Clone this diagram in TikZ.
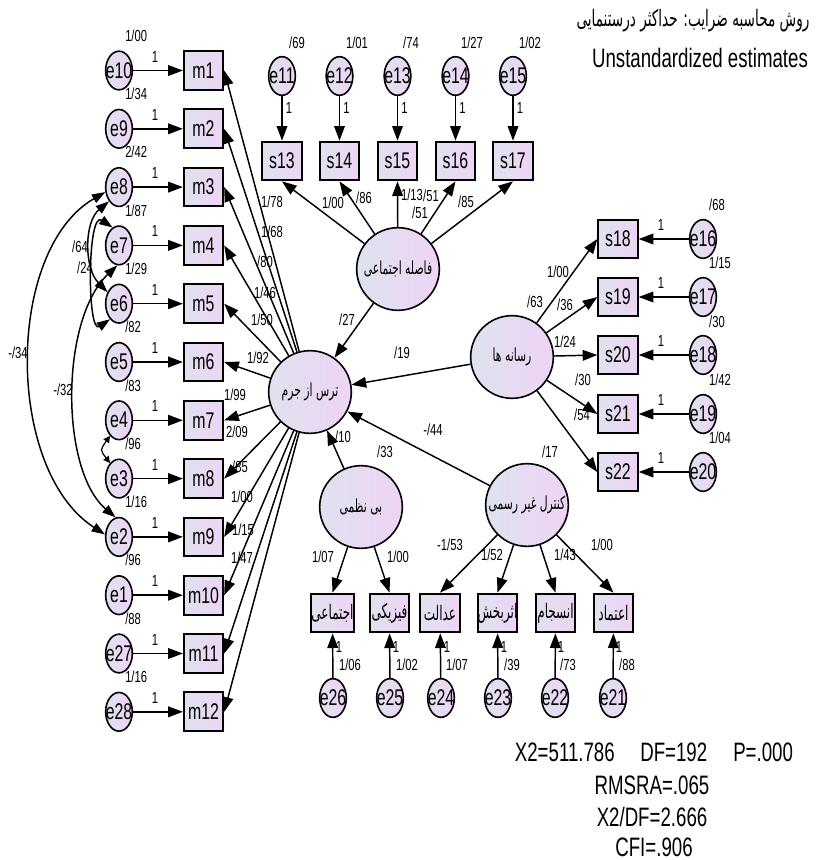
\documentclass[tikz,border=0pt]{standalone}
\usepackage{fontspec}
\setmainfont{Liberation Sans}[FakeStretch=0.7]
\newfontfamily\fa[Script=Arabic,FakeStretch=0.6]{DejaVu Sans}
\TeXXeTstate=1
\usetikzlibrary{arrows.meta,shapes.geometric}
\definecolor{ca}{RGB}{222,226,238}
\definecolor{cb}{RGB}{238,212,245}
\newcommand\eN[1]{\makebox[0pt]{e#1}}
\tikzset{
 obs/.style={rectangle, draw=black, line width=1.5pt, left color=ca, right color=cb, minimum width=29.5pt, minimum height=29pt, inner sep=0pt, font=\fontsize{17}{17}\selectfont},
 fobs/.style={obs, font=\fa\fontsize{15}{15}\selectfont},
 err/.style={ellipse, draw=black, line width=1.2pt, left color=ca, right color=cb, minimum width=20pt, minimum height=29pt, inner sep=0pt, font=\fontsize{17}{17}\selectfont},
 lat/.style={circle, draw=black, line width=1.2pt, left color=ca, right color=cb, minimum size=62pt, inner sep=0pt, font=\fa\fontsize{13.5}{13.5}\selectfont},
 lbl/.style={inner sep=0pt, font=\fontsize{12}{12}\selectfont},
 arr/.style={line width=1.1pt, -{Triangle[length=11pt,width=8pt]}},
 cov/.style={line width=1.1pt, {Triangle[length=10pt,width=7pt]}-{Triangle[length=10pt,width=7pt]}},
 covs/.style={line width=0.9pt, {Triangle[length=5pt,width=5pt]}-{Triangle[length=5pt,width=5pt]}},
}
\begin{document}
\begin{tikzpicture}[x=0.75pt,y=-0.75pt]
\useasboundingbox (0,0) rectangle (826,860);
% ---------- latent variables
\node[lat] (T) at (310,392) {\beginR ترس از جرم\endR};
\node[lat] (F) at (398,269) {\beginR فاصله اجتماعی\endR};
\node[lat] (R) at (512,357) {\beginR رسانه ها\endR};
\node[lat] (B) at (361,507) {\beginR بی نظمی\endR};
\node[lat] (K) at (527,505) {\beginR کنترل غیر رسمی\endR};
% ---------- left column
\node[obs] (m1) at (203.5,70.5) {m1};
\node[obs] (m2) at (203.5,128.8) {m2};
\node[obs] (m3) at (203.5,187.1) {m3};
\node[obs] (m4) at (203.5,245.4) {m4};
\node[obs] (m5) at (203.5,303.7) {m5};
\node[obs] (m6) at (203.5,362) {m6};
\node[obs] (m7) at (203.5,420.3) {m7};
\node[obs] (m8) at (203.5,478.6) {m8};
\node[obs] (m9) at (203.5,536.9) {m9};
\node[obs] (m10) at (203.5,595.2) {m10};
\node[obs] (m11) at (203.5,653.5) {m11};
\node[obs] (m12) at (203.5,711.8) {m12};
\node[err] (e10) at (119,70.5) {\eN{10}};
\node[err] (e9) at (119,128.8) {\eN{9}};
\node[err] (e8) at (119,187.1) {\eN{8}};
\node[err] (e7) at (119,245.4) {\eN{7}};
\node[err] (e6) at (119,303.7) {\eN{6}};
\node[err] (e5) at (119,362) {\eN{5}};
\node[err] (e4) at (119,420.3) {\eN{4}};
\node[err] (e3) at (119,478.6) {\eN{3}};
\node[err] (e2) at (119,536.9) {\eN{2}};
\node[err] (e1) at (119,595.2) {\eN{1}};
\node[err] (e27) at (119,653.5) {\eN{27}};
\node[err] (e28) at (119,711.8) {\eN{28}};
\draw[arr] (e10) -- (m1);
\draw[arr] (e9) -- (m2);
\draw[arr] (e8) -- (m3);
\draw[arr] (e7) -- (m4);
\draw[arr] (e6) -- (m5);
\draw[arr] (e5) -- (m6);
\draw[arr] (e4) -- (m7);
\draw[arr] (e3) -- (m8);
\draw[arr] (e2) -- (m9);
\draw[arr] (e1) -- (m10);
\draw[arr] (e27) -- (m11);
\draw[arr] (e28) -- (m12);
\node[lbl,anchor=west] (v10) at (125,35.5) {1/00};
\node[lbl,anchor=west] (v9) at (125,93.8) {1/34};
\node[lbl,anchor=west] (v8) at (125,152.1) {2/42};
\node[lbl,anchor=west] (v7) at (125,210.4) {1/87};
\node[lbl,anchor=west] (v6) at (125,268.7) {1/29};
\node[lbl,anchor=west] (v5) at (125,327) {/82};
\node[lbl,anchor=west] (v4) at (125,385.3) {/83};
\node[lbl,anchor=west] (v3) at (125,443.6) {/96};
\node[lbl,anchor=west] (v2) at (125,501.9) {1/16};
\node[lbl,anchor=west] (v1) at (125,560.2) {/96};
\node[lbl,anchor=west] (v27) at (125,618.5) {/88};
\node[lbl,anchor=west] (v28) at (125,676.8) {1/16};
\node[lbl] (w10) at (155,56.5) {1};
\node[lbl] (w9) at (155,114.8) {1};
\node[lbl] (w8) at (155,173.1) {1};
\node[lbl] (w7) at (155,231.4) {1};
\node[lbl] (w6) at (155,289.7) {1};
\node[lbl] (w5) at (155,348) {1};
\node[lbl] (w4) at (155,406.3) {1};
\node[lbl] (w3) at (155,464.6) {1};
\node[lbl] (w2) at (155,522.9) {1};
\node[lbl] (w1) at (155,581.2) {1};
\node[lbl] (w27) at (155,639.5) {1};
\node[lbl] (w28) at (155,697.8) {1};
% covariances
\draw[cov] (e8.200) .. controls (5,250) and (5,470) .. (e2.170);
\draw[cov] (e7.265) .. controls (60,320) and (60,470) .. (e2.100);
\draw[cov] (e8.235) .. controls (84,222) and (84,268) .. (e6.135);
\draw[cov] (e7.110) .. controls (87,210) and (87,335) .. (e6.240);
\draw[covs] (e4.240) .. controls (100,450) .. (e3.120);
\node[lbl] (c1) at (18,353) {-/34};
\node[lbl] (c2) at (63,390) {-/32};
\node[lbl] (c3) at (80,247) {/64};
\node[lbl] (c4) at (85,268) {/24};
% T -> m
\foreach \k in {1,...,12} {\draw[arr] (T) -- (m\k.east);}
\node[lbl] (t1) at (272,202) {1/78};
\node[lbl] (t2) at (272,232) {1/68};
\node[lbl] (t3) at (265,262) {/80};
\node[lbl] (t4) at (265,293) {1/46};
\node[lbl] (t5) at (262,320) {1/50};
\node[lbl] (t6) at (258,358) {1/92};
\node[lbl] (t7) at (235,395) {1/99};
\node[lbl] (t8) at (237,432) {2/09};
\node[lbl] (t9) at (240,467) {/85};
\node[lbl] (t10) at (242,497) {1/00};
\node[lbl] (t11) at (243,530) {1/15};
\node[lbl] (t12) at (242,558) {1/47};
% ---------- top row
\node[obs] (s13) at (282,161) {s13};
\node[obs] (s14) at (339.5,161) {s14};
\node[obs] (s15) at (397.5,161) {s15};
\node[obs] (s16) at (455.5,161) {s16};
\node[obs] (s17) at (513,161) {s17};
\node[err] (e11) at (282,76) {\eN{11}};
\node[err] (e12) at (339.5,76) {\eN{12}};
\node[err] (e13) at (397.5,76) {\eN{13}};
\node[err] (e14) at (455.5,76) {\eN{14}};
\node[err] (e15) at (513,76) {\eN{15}};
\draw[arr] (e11) -- (s13);
\draw[arr] (e12) -- (s14);
\draw[arr] (e13) -- (s15);
\draw[arr] (e14) -- (s16);
\draw[arr] (e15) -- (s17);
\node[lbl] (v11) at (297,43) {/69};
\node[lbl] (v12) at (357,43) {1/01};
\node[lbl] (v13) at (411,43) {/74};
\node[lbl] (v14) at (472,43) {1/27};
\node[lbl] (v15) at (530,43) {1/02};
\node[lbl] (w11) at (289,108) {1};
\node[lbl] (w12) at (346.5,108) {1};
\node[lbl] (w13) at (404.5,108) {1};
\node[lbl] (w14) at (462.5,108) {1};
\node[lbl] (w15) at (520,108) {1};
\draw[arr] (F) -- (s13.south);
\draw[arr] (F) -- (s14.south);
\draw[arr] (F) -- (s15.south);
\draw[arr] (F) -- (s16.south);
\draw[arr] (F) -- (s17.south);
\node[lbl] (f1) at (333,203) {1/00};
\node[lbl] (f2) at (364,198) {/86};
\node[lbl] (f3) at (412,195) {1/13};
\node[lbl] (f4) at (431,196) {/51};
\node[lbl] (f5) at (420,213) {/51};
\node[lbl] (f6) at (466,202) {/85};
% ---------- right column
\node[obs] (s18) at (618,239) {s18};
\node[obs] (s19) at (618,297) {s19};
\node[obs] (s20) at (618,355) {s20};
\node[obs] (s21) at (618,414) {s21};
\node[obs] (s22) at (618,472) {s22};
\node[err] (e16) at (703,239) {\eN{16}};
\node[err] (e17) at (703,297) {\eN{17}};
\node[err] (e18) at (703,355) {\eN{18}};
\node[err] (e19) at (703,414) {\eN{19}};
\node[err] (e20) at (703,472) {\eN{20}};
\draw[arr] (e16) -- (s18);
\draw[arr] (e17) -- (s19);
\draw[arr] (e18) -- (s20);
\draw[arr] (e19) -- (s21);
\draw[arr] (e20) -- (s22);
\node[lbl] (v16) at (717,205) {/68};
\node[lbl] (v17) at (720,263) {1/15};
\node[lbl] (v18) at (717,322) {/30};
\node[lbl] (v19) at (720,380) {1/42};
\node[lbl] (v20) at (720,438) {1/04};
\node[lbl] (w16) at (661,225) {1};
\node[lbl] (w17) at (661,283) {1};
\node[lbl] (w18) at (661,341) {1};
\node[lbl] (w19) at (661,400) {1};
\node[lbl] (w20) at (661,458) {1};
\draw[arr] (R) -- (s18.west);
\draw[arr] (R) -- (s19.west);
\draw[arr] (R) -- (s20.west);
\draw[arr] (R) -- (s21.west);
\draw[arr] (R) -- (s22.west);
\node[lbl] (r1) at (558,272) {1/00};
\node[lbl] (r2) at (565,305) {/36};
\node[lbl] (r3) at (565,342) {1/24};
\node[lbl] (r4) at (583,380) {/30};
\node[lbl] (r5) at (582,415) {/54};
\node[lbl] (r6) at (535,302) {/63};
% ---------- bottom row
\node[fobs] (b1) at (332.5,613) {\beginR اجتماعی\endR};
\node[fobs] (b2) at (389.5,613) {\beginR فیزیکی\endR};
\node[fobs] (b3) at (440,613) {\beginR عدالت\endR};
\node[fobs] (b4) at (497.5,613) {\beginR اثربخش\endR};
\node[fobs] (b5) at (555.5,613) {\beginR انسجام\endR};
\node[fobs] (b6) at (613.5,613) {\beginR اعتماد\endR};
\node[err] (e26) at (333,698) {\eN{26}};
\node[err] (e25) at (390,698) {\eN{25}};
\node[err] (e24) at (441,698) {\eN{24}};
\node[err] (e23) at (498,698) {\eN{23}};
\node[err] (e22) at (555,698) {\eN{22}};
\node[err] (e21) at (613,698) {\eN{21}};
\draw[arr] (e26) -- (b1);
\draw[arr] (e25) -- (b2);
\draw[arr] (e24) -- (b3);
\draw[arr] (e23) -- (b4);
\draw[arr] (e22) -- (b5);
\draw[arr] (e21) -- (b6);
\node[lbl] (w26) at (339,647) {1};
\node[lbl] (w25) at (396,647) {1};
\node[lbl] (w24) at (447,647) {1};
\node[lbl] (w23) at (504,647) {1};
\node[lbl] (w22) at (561,647) {1};
\node[lbl] (w21) at (619,647) {1};
\node[lbl] (v26) at (350,665) {1/06};
\node[lbl] (v25) at (407,665) {1/02};
\node[lbl] (v24) at (457,665) {1/07};
\node[lbl] (v23) at (512,665) {/39};
\node[lbl] (v22) at (568,665) {/73};
\node[lbl] (v21) at (627,665) {/88};
\draw[arr] (B) -- (b1.north);
\draw[arr] (B) -- (b2.north);
\draw[arr] (K) -- (b3.north);
\draw[arr] (K) -- (b4.north);
\draw[arr] (K) -- (b5.north);
\draw[arr] (K) -- (b6.north);
\node[lbl] (q1) at (323,557) {1/07};
\node[lbl] (q2) at (398,557) {1/00};
\node[lbl] (q3) at (450,545) {-1/53};
\node[lbl] (q4) at (492,555) {1/52};
\node[lbl] (q5) at (565,555) {1/43};
\node[lbl] (q6) at (602,545) {1/00};
% ---------- structural paths
\draw[arr] (F) -- (T);
\draw[arr] (R) -- (T);
\draw[arr] (B) -- (T);
\draw[arr] (K) -- (T);
\node[lbl] (p1) at (347,320) {/27};
\node[lbl] (p2) at (402,353) {/19};
\node[lbl] (p3) at (433,430) {-/44};
\node[lbl] (p4) at (343,437) {/10};
\node[lbl] (p5) at (385,452) {/33};
\node[lbl] (p6) at (550,452) {/17};
% ---------- titles and fit
\node[inner sep=0pt, font=\fa\fontsize{17}{17}\selectfont] (h1) at (693,21) {\beginR روش محاسبه ضرایب: حداکثر درستنمایی\endR};
\node[inner sep=0pt, font=\fontsize{20}{20}\selectfont] (h2) at (700,58) {Unstandardized estimates};
\node[inner sep=0pt, anchor=east, font=\fontsize{20}{20}\selectfont] (g1) at (615,752) {X2=511.786};
\node[inner sep=0pt, anchor=west, font=\fontsize{20}{20}\selectfont] (g2) at (640,752) {DF=192};
\node[inner sep=0pt, anchor=west, font=\fontsize{20}{20}\selectfont] (g3) at (733,752) {P=.000};
\node[inner sep=0pt, font=\fontsize{20}{20}\selectfont] (g4) at (652,785) {RMSRA=.065};
\node[inner sep=0pt, font=\fontsize{20}{20}\selectfont] (g5) at (652,817) {X2/DF=2.666};
\node[inner sep=0pt, font=\fontsize{20}{20}\selectfont] (g6) at (654,847) {CFI=.906};
\end{tikzpicture}
\end{document}
